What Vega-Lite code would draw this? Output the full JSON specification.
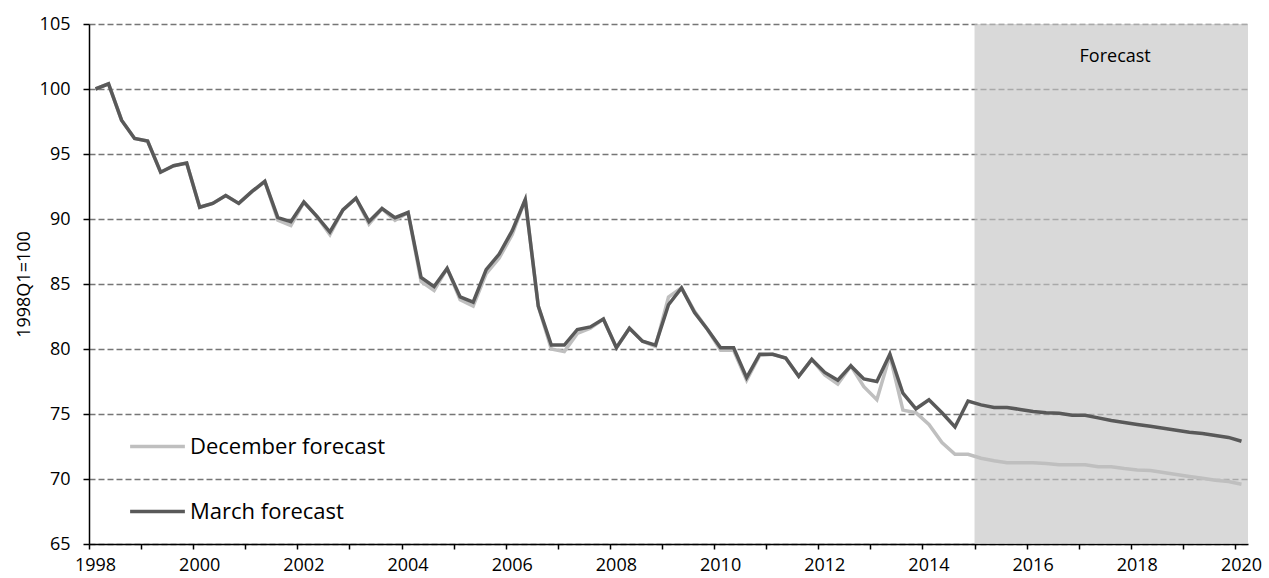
{
  "$schema": "https://vega.github.io/schema/vega-lite/v6.json",
  "width": 1159,
  "height": 520,
  "autosize": {"type": "none"},
  "padding": {"left": 89, "top": 24, "right": 21, "bottom": 34},
  "background": "white",
  "config": {
    "view": {"stroke": null},
    "font": "Open Sans",
    "axis": {"labelFont": "Open Sans", "titleFont": "Open Sans", "labelColor": "#000000", "titleColor": "#000000", "domainColor": "#000000", "tickColor": "#000000", "domainWidth": 1.5, "tickWidth": 1.5}
  },
  "datasets": {
    "series": [
      {"t": 1998.00, "December forecast": 100.0, "March forecast": 100.0},
      {"t": 1998.25, "December forecast": 100.4, "March forecast": 100.4},
      {"t": 1998.50, "December forecast": 97.6, "March forecast": 97.6},
      {"t": 1998.75, "December forecast": 96.2, "March forecast": 96.2},
      {"t": 1999.00, "December forecast": 96.0, "March forecast": 96.0},
      {"t": 1999.25, "December forecast": 93.6, "March forecast": 93.6},
      {"t": 1999.50, "December forecast": 94.1, "March forecast": 94.1},
      {"t": 1999.75, "December forecast": 94.3, "March forecast": 94.3},
      {"t": 2000.00, "December forecast": 90.9, "March forecast": 90.9},
      {"t": 2000.25, "December forecast": 91.2, "March forecast": 91.2},
      {"t": 2000.50, "December forecast": 91.8, "March forecast": 91.8},
      {"t": 2000.75, "December forecast": 91.2, "March forecast": 91.2},
      {"t": 2001.00, "December forecast": 92.1, "March forecast": 92.1},
      {"t": 2001.25, "December forecast": 92.9, "March forecast": 92.9},
      {"t": 2001.50, "December forecast": 89.9, "March forecast": 90.1},
      {"t": 2001.75, "December forecast": 89.5, "March forecast": 89.8},
      {"t": 2002.00, "December forecast": 91.3, "March forecast": 91.3},
      {"t": 2002.25, "December forecast": 90.2, "March forecast": 90.2},
      {"t": 2002.50, "December forecast": 88.8, "March forecast": 89.0},
      {"t": 2002.75, "December forecast": 90.7, "March forecast": 90.7},
      {"t": 2003.00, "December forecast": 91.6, "March forecast": 91.6},
      {"t": 2003.25, "December forecast": 89.6, "March forecast": 89.8},
      {"t": 2003.50, "December forecast": 90.8, "March forecast": 90.8},
      {"t": 2003.75, "December forecast": 89.9, "March forecast": 90.1},
      {"t": 2004.00, "December forecast": 90.5, "March forecast": 90.5},
      {"t": 2004.25, "December forecast": 85.2, "March forecast": 85.5},
      {"t": 2004.50, "December forecast": 84.5, "March forecast": 84.8},
      {"t": 2004.75, "December forecast": 86.2, "March forecast": 86.2},
      {"t": 2005.00, "December forecast": 83.8, "March forecast": 84.0},
      {"t": 2005.25, "December forecast": 83.3, "March forecast": 83.6},
      {"t": 2005.50, "December forecast": 85.8, "March forecast": 86.1},
      {"t": 2005.75, "December forecast": 87.0, "March forecast": 87.3},
      {"t": 2006.00, "December forecast": 88.8, "March forecast": 89.1},
      {"t": 2006.25, "December forecast": 91.5, "March forecast": 91.5},
      {"t": 2006.50, "December forecast": 83.3, "March forecast": 83.3},
      {"t": 2006.75, "December forecast": 80.0, "March forecast": 80.3},
      {"t": 2007.00, "December forecast": 79.8, "March forecast": 80.3},
      {"t": 2007.25, "December forecast": 81.2, "March forecast": 81.5},
      {"t": 2007.50, "December forecast": 81.6, "March forecast": 81.7},
      {"t": 2007.75, "December forecast": 82.3, "March forecast": 82.3},
      {"t": 2008.00, "December forecast": 80.1, "March forecast": 80.1},
      {"t": 2008.25, "December forecast": 81.6, "March forecast": 81.6},
      {"t": 2008.50, "December forecast": 80.6, "March forecast": 80.6},
      {"t": 2008.75, "December forecast": 80.2, "March forecast": 80.3},
      {"t": 2009.00, "December forecast": 84.0, "March forecast": 83.4},
      {"t": 2009.25, "December forecast": 84.7, "March forecast": 84.7},
      {"t": 2009.50, "December forecast": 82.9, "March forecast": 82.8},
      {"t": 2009.75, "December forecast": 81.5, "March forecast": 81.5},
      {"t": 2010.00, "December forecast": 79.9, "March forecast": 80.1},
      {"t": 2010.25, "December forecast": 79.9, "March forecast": 80.1},
      {"t": 2010.50, "December forecast": 77.6, "March forecast": 77.8},
      {"t": 2010.75, "December forecast": 79.5, "March forecast": 79.6},
      {"t": 2011.00, "December forecast": 79.6, "March forecast": 79.6},
      {"t": 2011.25, "December forecast": 79.3, "March forecast": 79.3},
      {"t": 2011.50, "December forecast": 77.9, "March forecast": 77.9},
      {"t": 2011.75, "December forecast": 79.2, "March forecast": 79.2},
      {"t": 2012.00, "December forecast": 78.0, "March forecast": 78.2},
      {"t": 2012.25, "December forecast": 77.3, "March forecast": 77.6},
      {"t": 2012.50, "December forecast": 78.7, "March forecast": 78.7},
      {"t": 2012.75, "December forecast": 77.1, "March forecast": 77.7},
      {"t": 2013.00, "December forecast": 76.1, "March forecast": 77.5},
      {"t": 2013.25, "December forecast": 79.5, "March forecast": 79.6},
      {"t": 2013.50, "December forecast": 75.3, "March forecast": 76.6},
      {"t": 2013.75, "December forecast": 75.1, "March forecast": 75.4},
      {"t": 2014.00, "December forecast": 74.2, "March forecast": 76.1},
      {"t": 2014.25, "December forecast": 72.8, "March forecast": 75.1},
      {"t": 2014.50, "December forecast": 71.9, "March forecast": 74.0},
      {"t": 2014.75, "December forecast": 71.9, "March forecast": 76.0},
      {"t": 2015.00, "December forecast": 71.6, "March forecast": 75.7},
      {"t": 2015.25, "December forecast": 71.4, "March forecast": 75.5},
      {"t": 2015.50, "December forecast": 71.25, "March forecast": 75.5},
      {"t": 2015.75, "December forecast": 71.25, "March forecast": 75.35},
      {"t": 2016.00, "December forecast": 71.25, "March forecast": 75.2},
      {"t": 2016.25, "December forecast": 71.2, "March forecast": 75.1},
      {"t": 2016.50, "December forecast": 71.1, "March forecast": 75.05},
      {"t": 2016.75, "December forecast": 71.1, "March forecast": 74.9},
      {"t": 2017.00, "December forecast": 71.1, "March forecast": 74.9},
      {"t": 2017.25, "December forecast": 70.95, "March forecast": 74.7},
      {"t": 2017.50, "December forecast": 70.95, "March forecast": 74.5},
      {"t": 2017.75, "December forecast": 70.8, "March forecast": 74.35},
      {"t": 2018.00, "December forecast": 70.7, "March forecast": 74.2},
      {"t": 2018.25, "December forecast": 70.65, "March forecast": 74.05},
      {"t": 2018.50, "December forecast": 70.5, "March forecast": 73.9},
      {"t": 2018.75, "December forecast": 70.35, "March forecast": 73.75},
      {"t": 2019.00, "December forecast": 70.2, "March forecast": 73.6},
      {"t": 2019.25, "December forecast": 70.05, "March forecast": 73.5},
      {"t": 2019.50, "December forecast": 69.9, "March forecast": 73.35},
      {"t": 2019.75, "December forecast": 69.8, "March forecast": 73.2},
      {"t": 2020.00, "December forecast": 69.6, "March forecast": 72.9}
    ],
    "shade": [{"start": 2014.875, "end": 2020.125}],
    "note": [{"t": 2017.575, "v": 102.5, "label": "Forecast"}]
  },
  "layer": [
    {
      "data": {"name": "shade"},
      "mark": {"type": "rect", "fill": "#c4c4c4", "opacity": 0.65},
      "encoding": {
        "x": {"field": "start", "type": "quantitative", "scale": {"domain": [1997.875, 2020.125], "nice": false, "zero": false}},
        "x2": {"field": "end"}
      }
    },
    {
      "data": {"name": "note"},
      "mark": {"type": "text", "font": "Open Sans", "fontSize": 18, "color": "#000000"},
      "encoding": {
        "x": {"field": "t", "type": "quantitative"},
        "y": {"field": "v", "type": "quantitative"},
        "text": {"field": "label"}
      }
    },
    {
      "data": {"name": "series"},
      "transform": [{"fold": ["December forecast", "March forecast"], "as": ["series", "value"]}],
      "mark": {"type": "line", "strokeWidth": 3.5},
      "encoding": {
        "x": {
          "field": "t", "type": "quantitative",
          "scale": {"domain": [1997.875, 2020.125], "nice": false, "zero": false},
          "axis": {
            "title": null, "grid": false,
            "values": [1997.875, 1998.875, 1999.875, 2000.875, 2001.875, 2002.875, 2003.875, 2004.875, 2005.875, 2006.875, 2007.875, 2008.875, 2009.875, 2010.875, 2011.875, 2012.875, 2013.875, 2014.875, 2015.875, 2016.875, 2017.875, 2018.875, 2019.875],
            "labelExpr": "round(datum.value + 0.125) % 2 == 0 ? '' + round(datum.value + 0.125) : ''",
            "labelOffset": 6,
            "labelFontSize": 18, "labelPadding": 7, "tickSize": 5, "labelFlush": false, "labelOverlap": false
          }
        },
        "y": {
          "field": "value", "type": "quantitative",
          "scale": {"domain": [65, 105], "nice": false, "zero": false},
          "axis": {
            "title": "1998Q1=100", "titleFontSize": 18, "titleFontWeight": "normal", "titlePadding": 6,
            "values": [65, 70, 75, 80, 85, 90, 95, 100, 105],
            "labelFontSize": 18, "labelPadding": 13, "tickSize": 6,
            "grid": true, "gridColor": "#767676", "gridDash": [6, 3], "gridWidth": 1.3
          }
        },
        "color": {
          "field": "series", "type": "nominal",
          "scale": {"domain": ["December forecast", "March forecast"], "range": ["#bfbfbf", "#595959"]},
          "legend": {
            "title": null, "orient": "none", "legendX": 39, "legendY": 393,
            "symbolType": "stroke", "symbolSize": 3000, "symbolStrokeWidth": 3.5,
            "labelFont": "Open Sans", "labelFontSize": 22, "labelColor": "#000000", "labelLimit": 400,
            "labelOffset": 3, "rowPadding": 24, "padding": 0
          }
        }
      }
    }
  ]
}
